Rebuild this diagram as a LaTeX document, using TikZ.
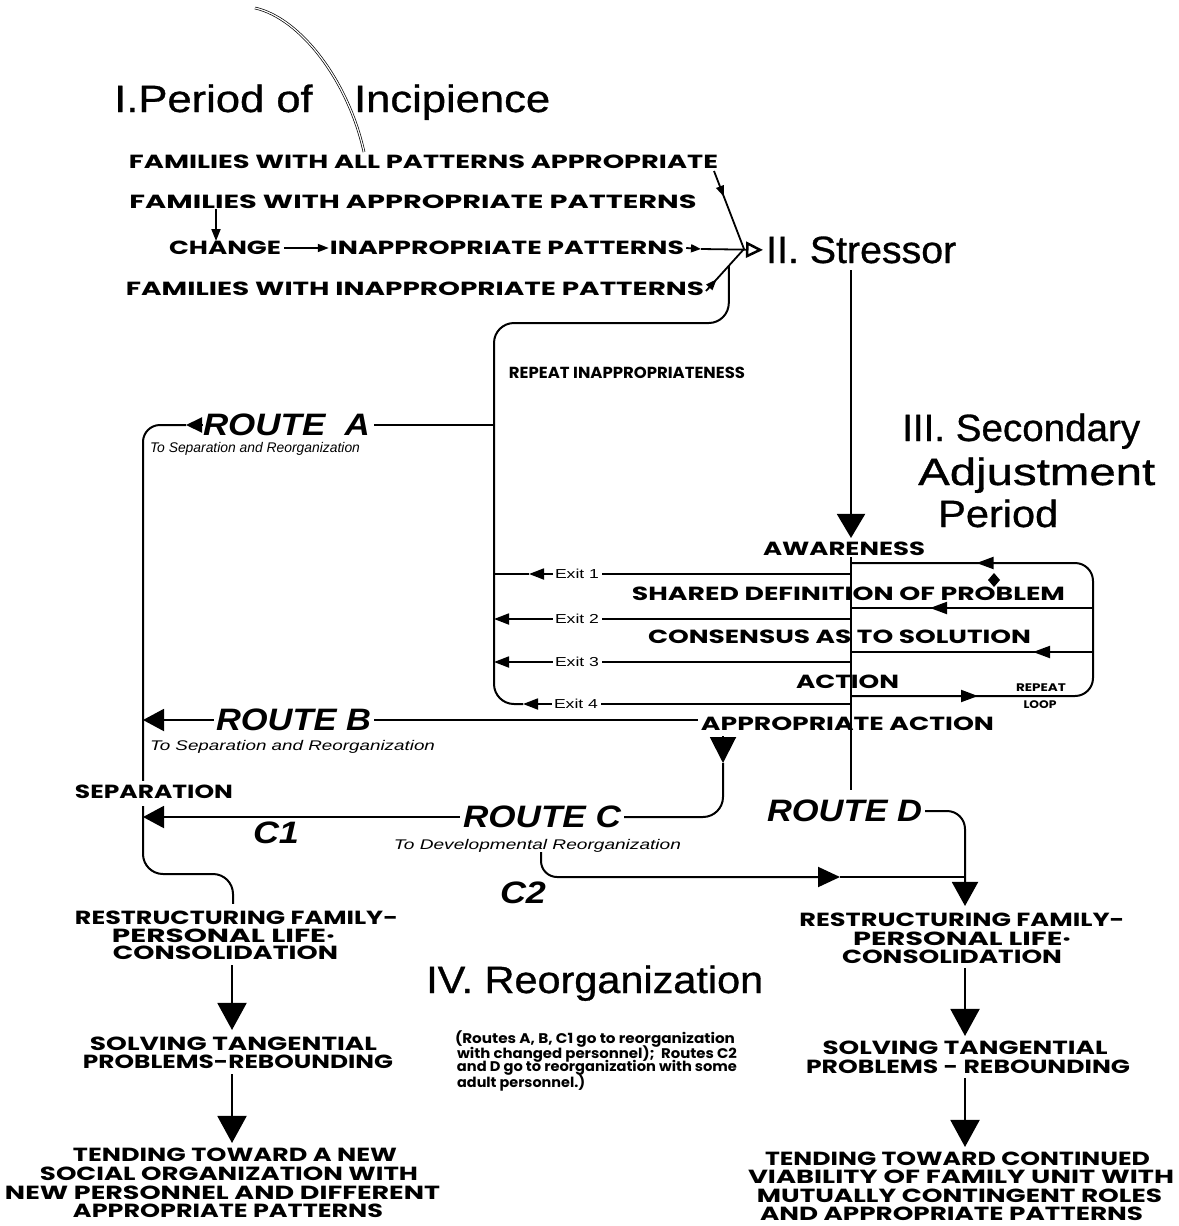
\documentclass[tikz,border=0pt]{standalone}
\usepackage{fontspec}
\usepackage{graphicx}
\setmainfont{Liberation Sans}
\newfontfamily\geo{Poppins}
\newfontfamily\hel{Liberation Sans}
\newfontfamily\helh[BoldFont={Liberation Sans}, BoldFeatures={FakeBold=0.8}]{Liberation Sans}
\usetikzlibrary{arrows.meta,decorations.markings,calc}
\newcommand{\fw}[2]{\resizebox{#1pt}{\height}{#2}}
\tikzset{
 capl/.style={inner sep=0pt, font=\geo\bfseries\fontsize{19}{20}\selectfont},
 head/.style={inner sep=0pt, anchor=base west, font=\helh\bfseries\fontsize{38}{40}\selectfont},
 routel/.style={inner sep=0pt, font=\hel\bfseries\itshape\fontsize{31}{32}\selectfont},
 subl/.style={inner sep=0pt, font=\hel\itshape\fontsize{14}{15}\selectfont},
 exitl/.style={inner sep=0pt, font=\hel\fontsize{13}{14}\selectfont},
 loopl/.style={inner sep=0pt, font=\geo\bfseries\fontsize{11}{12}\selectfont},
 smallcap/.style={inner sep=0pt, font=\geo\bfseries\fontsize{16}{17}\selectfont},
 notel/.style={inner sep=0pt, font=\geo\bfseries\fontsize{14}{15}\selectfont},
 ln/.style={line width=2pt},
 lnt/.style={line width=1.8pt},
 bigtip/.style={-{Triangle[width=29pt,length=27pt]}},
 sidetip/.style={-{Triangle[width=22pt,length=21pt]}},
 exittip/.style={-{Triangle[width=11pt,length=15pt]}},
 smalltip/.style={-{Triangle[width=8pt,length=11pt]}},
 midarrow/.style={postaction={decorate}, decoration={markings, mark=at position #1 with {\arrow{Triangle[width=8pt,length=11pt]}}}},
 looparrow/.style={postaction={decorate}, decoration={markings, mark=at position #1 with {\arrow{Triangle[width=12pt,length=17pt]}}}},
}
\begin{document}
\begin{tikzpicture}[x=1pt,y=-1pt]
\useasboundingbox (0,0) rectangle (1178,1226);
\fill[white] (0,0) rectangle (1178,1226);

% hair line across the title
\draw[line width=0.7pt, double=white, double distance=1.2pt] (255,8) .. controls (300,18) and (348,80) .. (364,152);

% headings
\node[head] (t0) at (114,112) {\fw{436}{I.Period of\hspace{0.95em}Incipience}};
\node[head] (str) at (766,263) {\fw{190}{II. Stressor}};
\node[head] (s3a) at (902,441) {\fw{238}{III. Secondary}};
\node[head] (s3b) at (918,485) {\fw{237}{Adjustment}};
\node[head] (s3c) at (938,527) {\fw{120}{Period}};
\node[head] (s4) at (426,993) {\fw{337}{IV. Reorganization}};

% period of incipience
\node[capl] (f1) at (423.5,162) {\fw{589}{FAMILIES WITH ALL PATTERNS APPROPRIATE}};
\node[capl] (f2) at (413,202) {\fw{567}{FAMILIES WITH APPROPRIATE PATTERNS}};
\node[capl] (chg) at (225,248) {\fw{112}{CHANGE}};
\node[capl] (inap) at (507,248) {\fw{354}{INAPPROPRIATE PATTERNS}};
\node[capl] (f4) at (415,289) {\fw{578}{FAMILIES WITH INAPPROPRIATE PATTERNS}};

\coordinate (cv) at (744,249);
\coordinate (sa) at (701,249);
\coordinate (d1) at (714,171);
\coordinate (d4) at (706,291);
\coordinate (fa) at (216,209);
\coordinate (jn) at ($(d4)!0.6!(cv)$);

\draw[lnt,-{Triangle[width=9pt,length=12pt]}] (fa) -- (chg.north -| fa);
\draw[lnt,smalltip] ([xshift=3pt]chg.east) -- ([xshift=-1pt]inap.west);
\draw[lnt,-{Triangle[width=8pt,length=10pt]}] ([xshift=2pt]inap.east) -- (sa);
\draw[lnt,-{Triangle[open,width=16pt,length=17pt,line width=2.5pt]}] (sa) -- ([xshift=-3pt]str.west);
\draw[lnt, midarrow=0.33] (d1) -- (cv);
\draw[lnt, midarrow=0.28] (d4) -- (cv);

% repeat inappropriateness loop
\node[smallcap] (rep) at (627,373) {\fw{236}{REPEAT INAPPROPRIATENESS}};
\coordinate (x4) at (523,704);
\draw[ln, rounded corners=20pt] (x4) -| (494,323) -| (jn);

% route A
\coordinate (ja) at (494,425);
\coordinate (rAt) at (186,425);
\coordinate (lx) at (143,0);
\node[routel] (rA) at (286.5,425) {\fw{167}{ROUTE\ \ A}};
\node[subl] (sA) at (255,449) {\fw{210}{To Separation and Reorganization}};
\node[capl] (sep) at (154,792) {\fw{158}{SEPARATION}};
\draw[ln] (ja) -- ([xshift=4pt]rA.east);
\draw[ln,-{Triangle[width=15pt,length=16pt]}] (rA.west) -- (rAt);
\draw[ln, rounded corners=17pt] (rAt) -| ([yshift=4pt]sep.north -| lx);

% secondary adjustment period
\node[capl] (aw) at (844,549) {\fw{162}{AWARENESS}};
\node[capl] (sd) at (848.5,594) {\fw{433}{SHARED DEFINITION OF PROBLEM}};
\node[capl] (cs) at (839.5,637) {\fw{383}{CONSENSUS AS TO SOLUTION}};
\node[capl] (ac) at (847.5,682) {\fw{103}{ACTION}};
\node[capl] (aa) at (847.5,724) {\fw{293}{APPROPRIATE ACTION}};

\coordinate (sv) at (851,270);
\coordinate (vend) at (851,790);
\draw[ln,-{Triangle[width=28pt,length=24pt]}] (sv) -- ([yshift=4pt]aw.north -| sv);
\draw[ln] ([yshift=-1pt]aw.south -| sv) -- (vend);

% repeat loop on the right
\coordinate (b1) at (851,563);
\coordinate (b4) at (851,696);
\coordinate (rb) at (1093,696);
\coordinate (rt) at (1093,563);
\coordinate (r2) at (1093,608);
\coordinate (m2) at (851,608);
\coordinate (r3) at (1093,652);
\coordinate (m3) at (851,652);
\draw[ln, rounded corners=18pt, postaction={decorate}, decoration={markings,
  mark=at position 127pt with {\arrow{Triangle[width=12pt,length=17pt]}},
  mark=at position 476pt with {\arrow{Triangle[width=12pt,length=17pt]}}}]
  (b4) -- (rb) -- (rt) -- (b1);
\draw[ln, looparrow=163pt] (r2) -- (m2);
\draw[ln, looparrow=60pt] (r3) -- (m3);
\node[loopl] (rp) at (1041,688) {\fw{50}{REPEAT}};
\node[loopl] (lp) at (1040,705) {\fw{33}{LOOP}};
\fill (994,573) -- (1000,580) -- (994,587) -- (988,580) -- cycle;

% exits
\node[exitl] (e1) at (577,574) {\fw{44}{Exit 1}};
\node[exitl] (e2) at (577,619) {\fw{44}{Exit 2}};
\node[exitl] (e3) at (577,662) {\fw{44}{Exit 3}};
\node[exitl] (e4) at (576,704) {\fw{44}{Exit 4}};
\coordinate (x1) at (529,574);
\draw[lnt] (851,574) -- ([xshift=3pt]e1.east);
\draw[lnt,exittip] ([xshift=-2pt]e1.west) -- (x1);
\draw[lnt] (x1) -- (494,574);
\draw[lnt] (851,619) -- ([xshift=3pt]e2.east);
\draw[lnt,exittip] ([xshift=-2pt]e2.west) -- (494,619);
\draw[lnt] (851,662) -- ([xshift=3pt]e3.east);
\draw[lnt,exittip] ([xshift=-2pt]e3.west) -- (494,662);
\draw[lnt] (851,704) -- ([xshift=3pt]e4.east);
\draw[lnt,exittip] ([xshift=-2pt]e4.west) -- (x4);

% route B
\node[routel] (rB) at (293.5,720) {\fw{155}{ROUTE B}};
\node[subl] (sB) at (292.5,747) {\fw{285}{To Separation and Reorganization}};
\draw[ln] ([xshift=-3pt]aa.west |- rB.east) -- ([xshift=3pt]rB.east);
\draw[ln,sidetip] ([xshift=-2pt]rB.west) -- (rB.west -| lx);

% route C
\node[routel] (rC) at (542,817) {\fw{158}{ROUTE C}};
\node[subl] (sC) at (537.5,846) {\fw{287}{To Developmental Reorganization}};
\node[routel] (c1) at (276,833) {\fw{46}{C1}};
\node[routel] (c2) at (523,893) {\fw{46}{C2}};
\coordinate (cx) at (723,0);
\coordinate (ct) at (723,763);
\draw[ln,-{Triangle[width=26pt,length=26pt]}] ([yshift=-5pt]aa.south -| cx) -- (ct);
\draw[ln, rounded corners=20pt] (ct) |- ([xshift=3pt]rC.east);
\draw[ln,sidetip] ([xshift=-3pt]rC.west) -- (rC.west -| lx);

% C2 and route D
\coordinate (c2s) at (541,852);
\coordinate (c2a) at (840,877);
\coordinate (dx) at (965,0);
\draw[ln, rounded corners=16pt, -{Triangle[width=20pt,length=22pt]}] (c2s) |- (c2a);
\draw[ln] (c2a) -- (c2a -| dx);
\node[routel] (rD) at (844.5,811) {\fw{155}{ROUTE D}};

% left bottom block
\node[capl] (L1) at (236.5,918) {\fw{323}{RESTRUCTURING FAMILY-}};
\node[capl] (L2) at (223.5,936) {\fw{223}{PERSONAL LIFE·}};
\node[capl] (L3) at (225.5,953) {\fw{225}{CONSOLIDATION}};
\node[capl] (L4) at (233.5,1044) {\fw{287}{SOLVING TANGENTIAL}};
\node[capl] (L5) at (238,1062) {\fw{310}{PROBLEMS-REBOUNDING}};
\node[capl] (L6) at (235,1155) {\fw{324}{TENDING TOWARD A NEW}};
\node[capl] (L7) at (229,1174) {\fw{378}{SOCIAL ORGANIZATION WITH}};
\node[capl] (L8) at (222.5,1193) {\fw{435}{NEW PERSONNEL AND DIFFERENT}};
\node[capl] (L9) at (228,1211) {\fw{310}{APPROPRIATE PATTERNS}};

\coordinate (bx) at (233,0);
\coordinate (bend) at (233,874);
\coordinate (bx2) at (232,0);
\draw[ln, rounded corners=20pt] ([yshift=-7pt]sep.south -| lx) |- (bend) -- ([yshift=7pt]L1.north -| bx);
\draw[ln,bigtip] ([yshift=-5pt]L3.south -| bx2) -- ([yshift=7pt]L4.north -| bx2);
\draw[ln,bigtip] ([yshift=-5pt]L5.south -| bx2) -- ([yshift=5pt]L6.north -| bx2);

% right bottom block
\node[capl] (R1) at (962,920) {\fw{325}{RESTRUCTURING FAMILY-}};
\node[capl] (R2) at (962,939) {\fw{218}{PERSONAL LIFE·}};
\node[capl] (R3) at (952,957) {\fw{220}{CONSOLIDATION}};
\node[capl] (R4) at (965,1048) {\fw{285}{SOLVING TANGENTIAL}};
\node[capl] (R5) at (968,1067) {\fw{324}{PROBLEMS - REBOUNDING}};
\node[capl] (R6) at (957.5,1159) {\fw{385}{TENDING TOWARD CONTINUED}};
\node[capl] (R7) at (961,1177) {\fw{426}{VIABILITY OF FAMILY UNIT WITH}};
\node[capl] (R8) at (959.5,1196) {\fw{405}{MUTUALLY CONTINGENT ROLES}};
\node[capl] (R9) at (951.5,1214) {\fw{383}{AND APPROPRIATE PATTERNS}};

\draw[ln, rounded corners=18pt, -{Triangle[width=26pt,length=24pt]}] ([xshift=3pt]rD.east) -| ([yshift=7pt]R1.north -| dx);
\draw[ln,bigtip] ([yshift=-4pt]R3.south -| dx) -- ([yshift=5pt]R4.north -| dx);
\draw[ln,bigtip] ([yshift=-4pt]R5.south -| dx) -- ([yshift=5pt]R6.north -| dx);

% note
\node[notel] (n1) at (595,1039) {\fw{280}{(Routes A, B, C1 go to reorganization}};
\node[notel] (n2) at (597,1054) {\fw{280}{with changed personnel);\ \ Routes C2}};
\node[notel] (n3) at (597,1068) {\fw{280}{and D go to reorganization with some}};
\node[notel, anchor=west] (n4) at (457,1083) {\fw{128}{adult personnel.)}};
\end{tikzpicture}
\end{document}
